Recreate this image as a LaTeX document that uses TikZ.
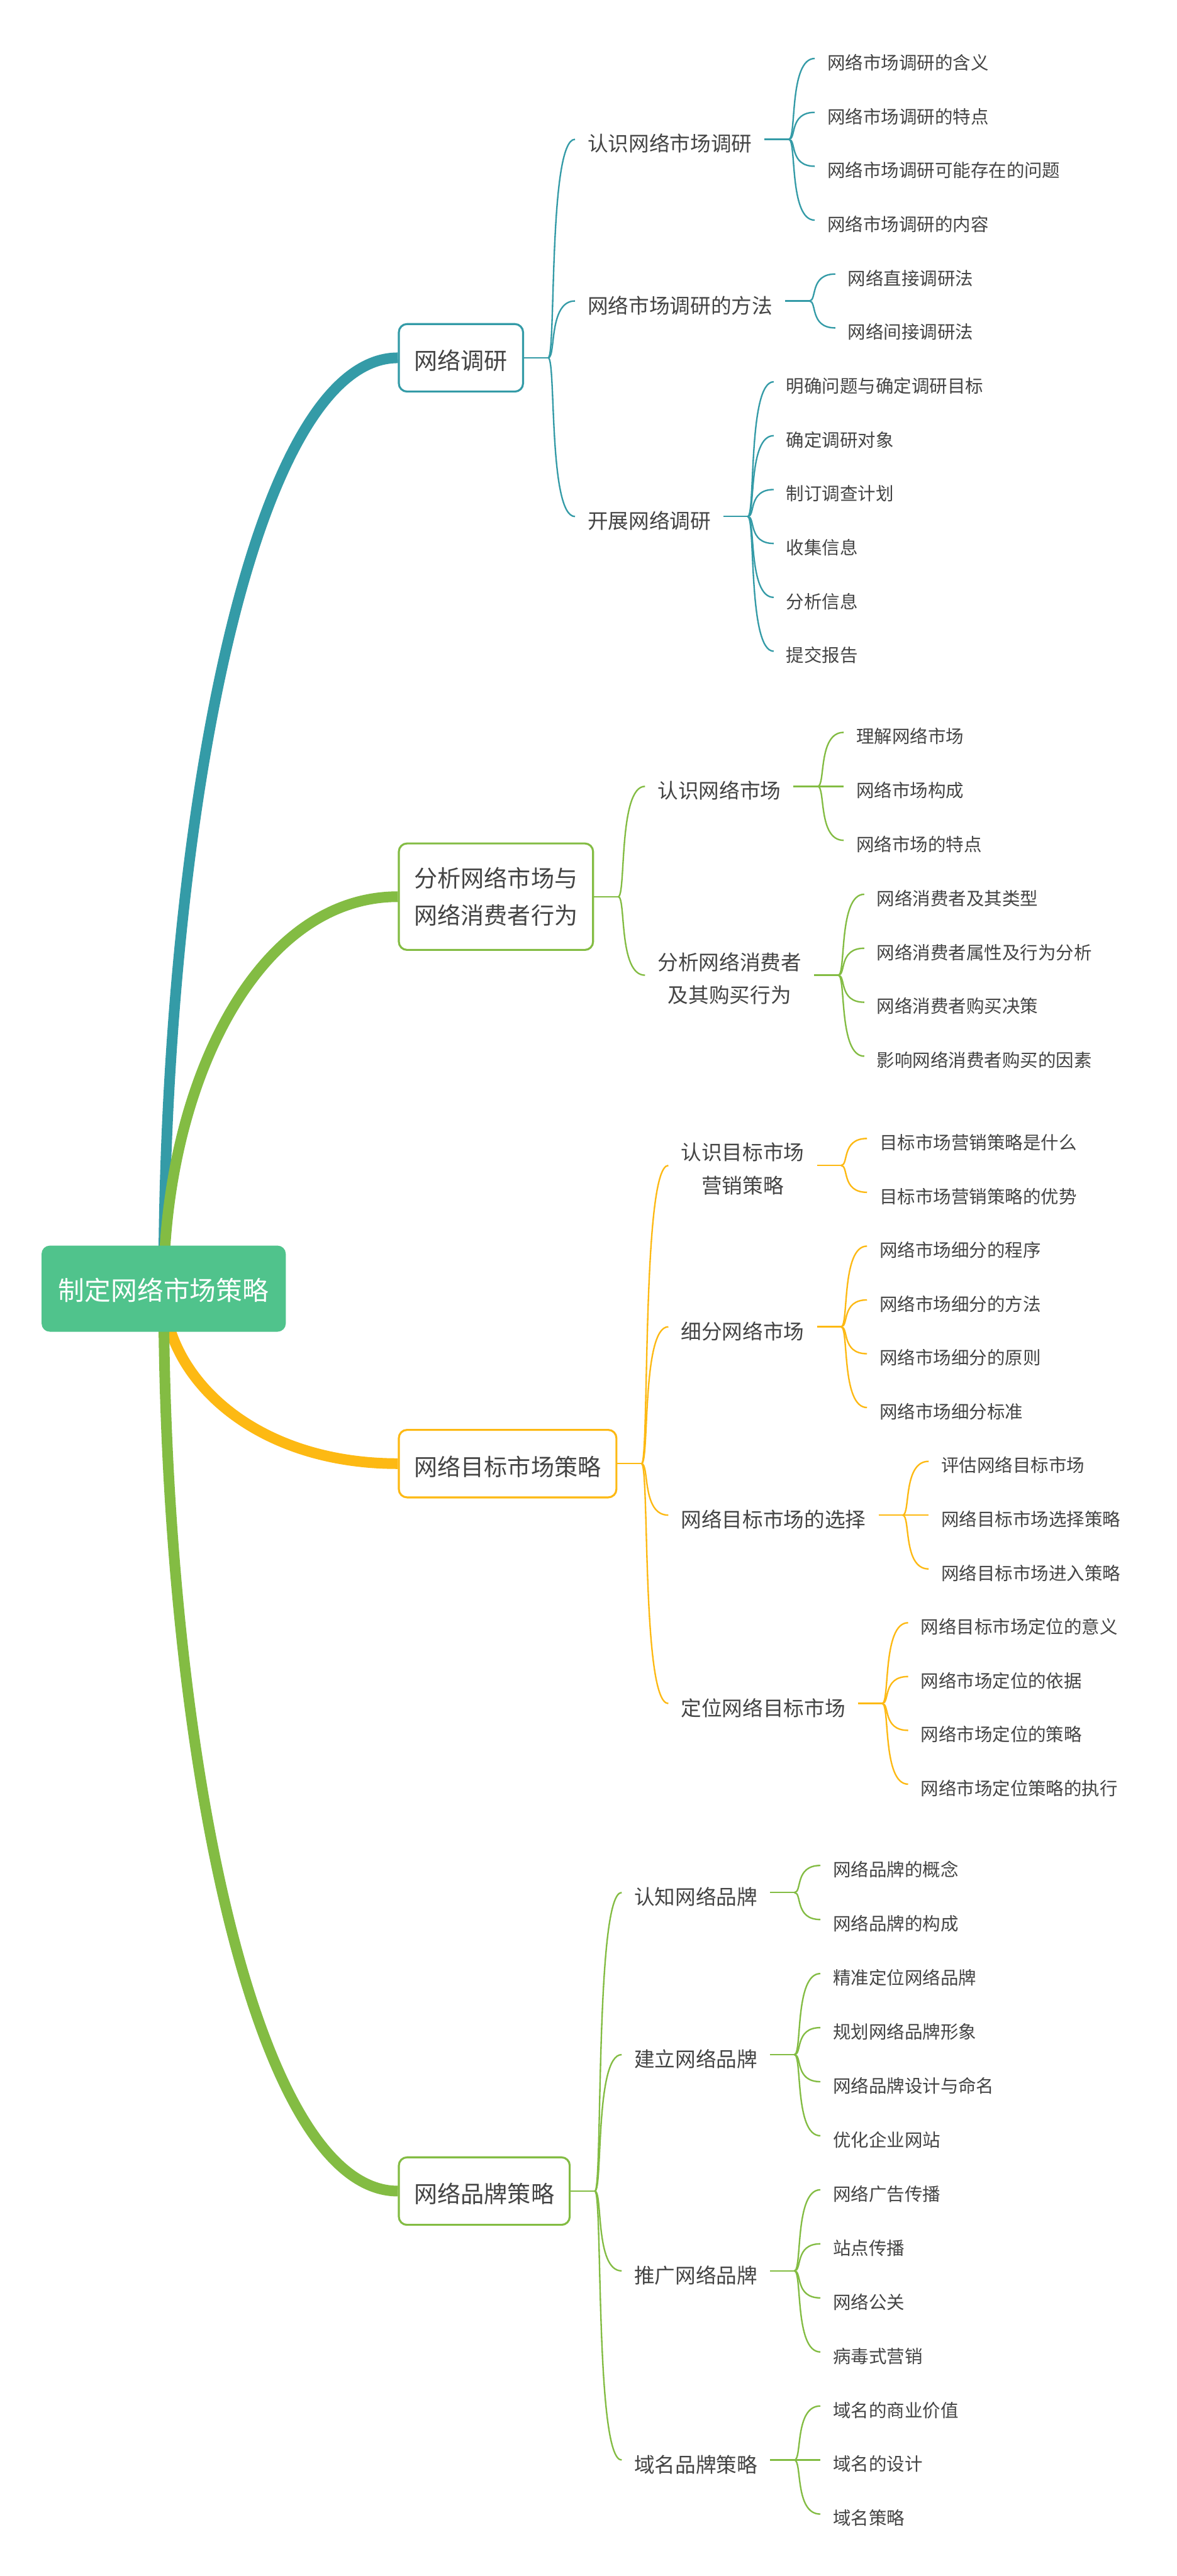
\documentclass[tikz,border=0pt]{standalone}
\usepackage{fontspec}
\setmainfont{Noto Sans CJK SC}
\usetikzlibrary{calc}
\definecolor{teal1}{HTML}{349BA7}
\definecolor{grn}{HTML}{83BC43}
\definecolor{ylw}{HTML}{FDB913}
\definecolor{rootc}{HTML}{50C38C}
\definecolor{txt}{HTML}{444444}
\pgfdeclarelayer{bg}
\pgfsetlayers{bg,main}
\tikzset{
  rootbox/.style={fill=rootc, rounded corners=5pt, text=white, font=\fontsize{16}{19}\selectfont,
    inner xsep=10.3pt, inner ysep=0pt, minimum height=52.4pt, text height=14.36pt, text depth=0pt},
  topicbase/.style={draw=#1, line width=1.2pt, rounded corners=5pt, fill=white, text=txt,
    font=\fontsize{14.2}{22.8}\selectfont, inner xsep=9.4pt, inner ysep=0pt, minimum height=41.1pt, anchor=west},
  topic/.style={topicbase=#1, text height=14.4pt, text depth=0pt},
  topictwo/.style={topicbase=#1, align=center, minimum height=64.8pt},
  subbase/.style={anchor=west, inner xsep=7.5pt, inner ysep=0pt, text=txt, font=\fontsize{12.5}{20.2}\selectfont},
  sub/.style={subbase, text height=14.9pt, text depth=0pt},
  subtwo/.style={subbase, align=center},
  leaf/.style={anchor=west, inner xsep=7.5pt, inner ysep=0pt, text=txt, font=\fontsize{10.9}{13}\selectfont,
    text height=13.28pt, text depth=0pt},
  conn/.style={draw=#1, line width=0.9pt},
  branch/.style={draw=#1, line width=6.5pt},
}
\newcommand\mksub[4]{\path let \p1=(#2) in node[sub] (#1) at (\x1+31pt,-#3pt) {#4};}
\newcommand\mkleaf[4]{\path let \p1=(#2) in node[leaf] (#1) at (\x1+30.5pt,-#3pt) {#4};}
\newcommand\jn[3]{\draw[conn=#1] (#2) -- ($(#2)+(14.7pt,0)$) coordinate (#3);}
\newcommand\kid[3]{\draw[conn=#1] (#2) .. controls ($(#2)+(4.8pt,0)$) and (#2 |- #3) .. (#3);}
\newcommand\mainbr[2]{\draw[branch=#1] (root.center) .. controls ($(root.center)!0.5!(root.center |- #2.west)$) and ($(root.center |- #2.west)!0.38!(#2.west)$) .. (#2.west);}
\begin{document}
\begin{tikzpicture}[x=1pt,y=-1pt]
\useasboundingbox (0,0) rectangle (716,1568);
\begin{pgfonlayer}{bg}
\fill[white] (0,0) rectangle (716,1568);
\end{pgfonlayer}

\node[rootbox] (root) at (99.6,784.4) {制定网络市场策略};

% ---------- Branch 1 ----------
\node[topic=teal1] (T1) at (242.1,217.8) {网络调研};
\mksub{a}{T1.east}{84.8}{认识网络市场调研}
\mksub{b}{T1.east}{183.2}{网络市场调研的方法}
\mksub{c}{T1.east}{314.4}{开展网络调研}
\mkleaf{a1}{a.east}{35.6}{网络市场调研的含义}
\mkleaf{a2}{a.east}{68.4}{网络市场调研的特点}
\mkleaf{a3}{a.east}{101.2}{网络市场调研可能存在的问题}
\mkleaf{a4}{a.east}{134.0}{网络市场调研的内容}
\mkleaf{b1}{b.east}{166.8}{网络直接调研法}
\mkleaf{b2}{b.east}{199.6}{网络间接调研法}
\mkleaf{c1}{c.east}{232.4}{明确问题与确定调研目标}
\mkleaf{c2}{c.east}{265.2}{确定调研对象}
\mkleaf{c3}{c.east}{298.0}{制订调查计划}
\mkleaf{c4}{c.east}{330.8}{收集信息}
\mkleaf{c5}{c.east}{363.6}{分析信息}
\mkleaf{c6}{c.east}{396.4}{提交报告}

% ---------- Branch 2 ----------
\node[topictwo=grn] (T2) at (242.1,545.8) {分析网络市场与\\网络消费者行为};
\mksub{d}{T2.east}{478.65}{认识网络市场}
\path let \p1=(T2.east) in node[subtwo] (e) at (\x1+31pt,-595.6pt) {分析网络消费者\\及其购买行为};
\coordinate (ew) at ([yshift=2pt]e.west);
\coordinate (ee) at ([yshift=2pt]e.east);
\mkleaf{d1}{d.east}{445.8}{理解网络市场}
\mkleaf{d2}{d.east}{478.65}{网络市场构成}
\mkleaf{d3}{d.east}{511.5}{网络市场的特点}
\mkleaf{e1}{ee}{544.35}{网络消费者及其类型}
\mkleaf{e2}{ee}{577.2}{网络消费者属性及行为分析}
\mkleaf{e3}{ee}{610.05}{网络消费者购买决策}
\mkleaf{e4}{ee}{642.9}{影响网络消费者购买的因素}

% ---------- Branch 3 ----------
\node[topic=ylw] (T3) at (242.1,890.9) {网络目标市场策略};
\path let \p1=(T3.east) in node[subtwo] (f) at (\x1+31pt,-711.4pt) {认识目标市场\\营销策略};
\coordinate (fw) at ([yshift=2pt]f.west);
\coordinate (fe) at ([yshift=2pt]f.east);
\mksub{g}{T3.east}{807.6}{细分网络市场}
\mksub{h}{T3.east}{922.25}{网络目标市场的选择}
\mksub{i}{T3.east}{1036.9}{定位网络目标市场}
\mkleaf{f1}{fe}{693}{目标市场营销策略是什么}
\mkleaf{f2}{fe}{725.75}{目标市场营销策略的优势}
\mkleaf{g1}{g.east}{758.5}{网络市场细分的程序}
\mkleaf{g2}{g.east}{791.25}{网络市场细分的方法}
\mkleaf{g3}{g.east}{824}{网络市场细分的原则}
\mkleaf{g4}{g.east}{856.75}{网络市场细分标准}
\mkleaf{h1}{h.east}{889.5}{评估网络目标市场}
\mkleaf{h2}{h.east}{922.25}{网络目标市场选择策略}
\mkleaf{h3}{h.east}{955}{网络目标市场进入策略}
\mkleaf{i1}{i.east}{987.75}{网络目标市场定位的意义}
\mkleaf{i2}{i.east}{1020.5}{网络市场定位的依据}
\mkleaf{i3}{i.east}{1053.25}{网络市场定位的策略}
\mkleaf{i4}{i.east}{1086}{网络市场定位策略的执行}

% ---------- Branch 4 ----------
\node[topic=grn] (T4) at (242.1,1333.7) {网络品牌策略};
\mksub{k}{T4.east}{1151.95}{认知网络品牌}
\mksub{l}{T4.east}{1250.65}{建立网络品牌}
\mksub{m}{T4.east}{1382.25}{推广网络品牌}
\mksub{n}{T4.east}{1497.4}{域名品牌策略}
\mkleaf{k1}{k.east}{1135.5}{网络品牌的概念}
\mkleaf{k2}{k.east}{1168.4}{网络品牌的构成}
\mkleaf{l1}{l.east}{1201.3}{精准定位网络品牌}
\mkleaf{l2}{l.east}{1234.2}{规划网络品牌形象}
\mkleaf{l3}{l.east}{1267.1}{网络品牌设计与命名}
\mkleaf{l4}{l.east}{1300}{优化企业网站}
\mkleaf{m1}{m.east}{1332.9}{网络广告传播}
\mkleaf{m2}{m.east}{1365.8}{站点传播}
\mkleaf{m3}{m.east}{1398.7}{网络公关}
\mkleaf{m4}{m.east}{1431.6}{病毒式营销}
\mkleaf{n1}{n.east}{1464.5}{域名的商业价值}
\mkleaf{n2}{n.east}{1497.4}{域名的设计}
\mkleaf{n3}{n.east}{1530.3}{域名策略}

% ---------- connectors ----------
\begin{pgfonlayer}{bg}
\mainbr{teal1}{T1}
\mainbr{grn}{T2}
\mainbr{ylw}{T3}
\mainbr{grn}{T4}

\jn{teal1}{T1.east}{j1}
\kid{teal1}{j1}{a.west}\kid{teal1}{j1}{b.west}\kid{teal1}{j1}{c.west}
\jn{teal1}{a.east}{ja}
\kid{teal1}{ja}{a1.west}\kid{teal1}{ja}{a2.west}\kid{teal1}{ja}{a3.west}\kid{teal1}{ja}{a4.west}
\jn{teal1}{b.east}{jb}
\kid{teal1}{jb}{b1.west}\kid{teal1}{jb}{b2.west}
\jn{teal1}{c.east}{jc}
\kid{teal1}{jc}{c1.west}\kid{teal1}{jc}{c2.west}\kid{teal1}{jc}{c3.west}
\kid{teal1}{jc}{c4.west}\kid{teal1}{jc}{c5.west}\kid{teal1}{jc}{c6.west}

\jn{grn}{T2.east}{j2}
\kid{grn}{j2}{d.west}\kid{grn}{j2}{ew}
\jn{grn}{d.east}{jd}
\kid{grn}{jd}{d1.west}\kid{grn}{jd}{d2.west}\kid{grn}{jd}{d3.west}
\jn{grn}{ee}{je}
\kid{grn}{je}{e1.west}\kid{grn}{je}{e2.west}\kid{grn}{je}{e3.west}\kid{grn}{je}{e4.west}

\jn{ylw}{T3.east}{j3}
\kid{ylw}{j3}{fw}\kid{ylw}{j3}{g.west}\kid{ylw}{j3}{h.west}\kid{ylw}{j3}{i.west}
\jn{ylw}{fe}{jf}
\kid{ylw}{jf}{f1.west}\kid{ylw}{jf}{f2.west}
\jn{ylw}{g.east}{jg}
\kid{ylw}{jg}{g1.west}\kid{ylw}{jg}{g2.west}\kid{ylw}{jg}{g3.west}\kid{ylw}{jg}{g4.west}
\jn{ylw}{h.east}{jh}
\kid{ylw}{jh}{h1.west}\kid{ylw}{jh}{h2.west}\kid{ylw}{jh}{h3.west}
\jn{ylw}{i.east}{ji}
\kid{ylw}{ji}{i1.west}\kid{ylw}{ji}{i2.west}\kid{ylw}{ji}{i3.west}\kid{ylw}{ji}{i4.west}

\jn{grn}{T4.east}{j4}
\kid{grn}{j4}{k.west}\kid{grn}{j4}{l.west}\kid{grn}{j4}{m.west}\kid{grn}{j4}{n.west}
\jn{grn}{k.east}{jk}
\kid{grn}{jk}{k1.west}\kid{grn}{jk}{k2.west}
\jn{grn}{l.east}{jl}
\kid{grn}{jl}{l1.west}\kid{grn}{jl}{l2.west}\kid{grn}{jl}{l3.west}\kid{grn}{jl}{l4.west}
\jn{grn}{m.east}{jm}
\kid{grn}{jm}{m1.west}\kid{grn}{jm}{m2.west}\kid{grn}{jm}{m3.west}\kid{grn}{jm}{m4.west}
\jn{grn}{n.east}{jn}
\kid{grn}{jn}{n1.west}\kid{grn}{jn}{n2.west}\kid{grn}{jn}{n3.west}
\end{pgfonlayer}
\end{tikzpicture}
\end{document}
